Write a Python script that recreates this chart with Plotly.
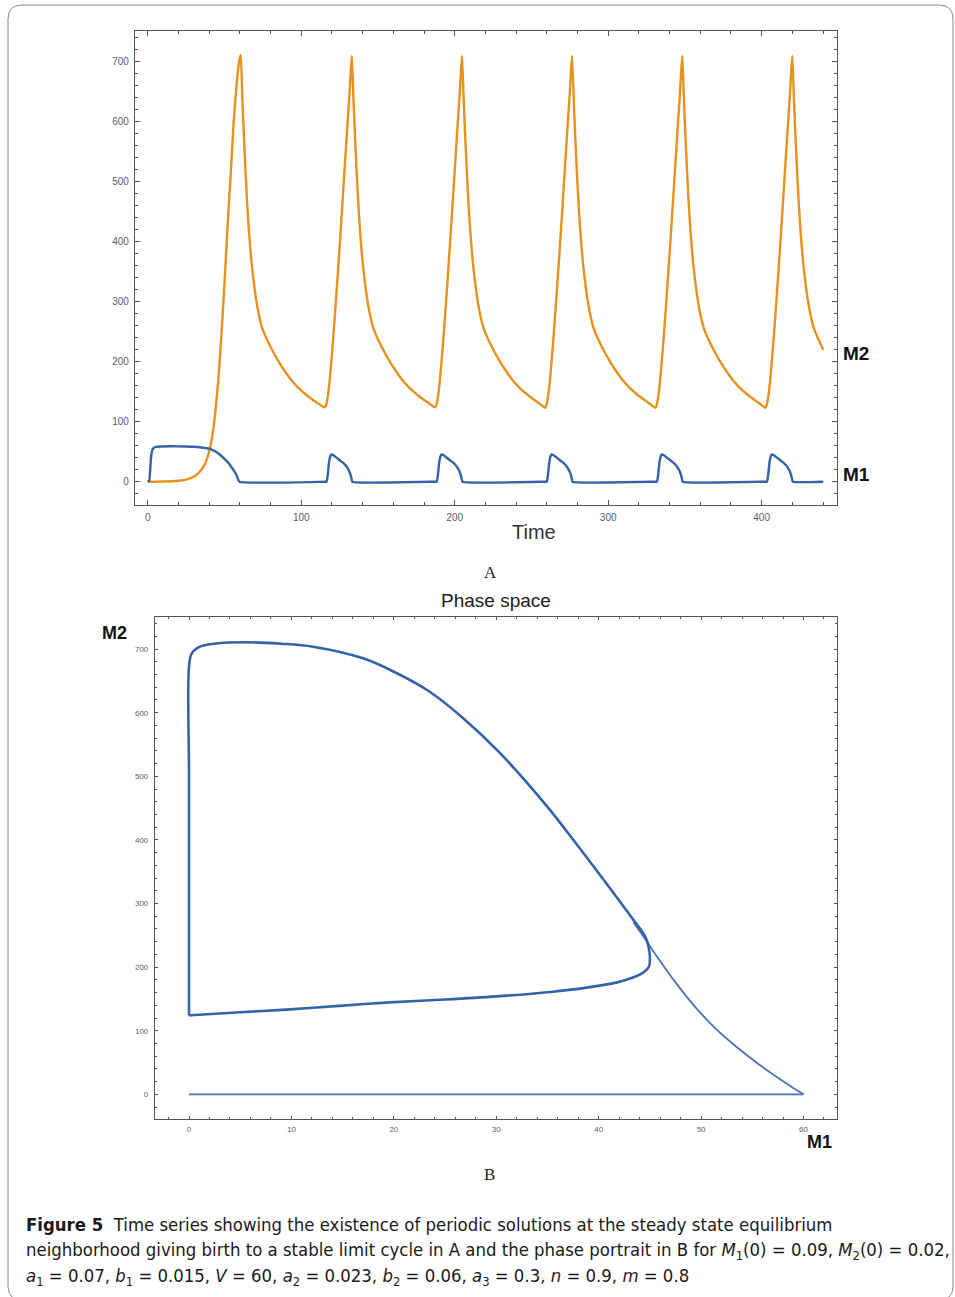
import plotly.graph_objects as go

W, H = 955, 1297

# ---------------- Panel A: time series ----------------
t_m2 = [0, 10, 20, 25, 28, 31, 34, 37, 40, 42, 44, 46, 48, 50, 52, 54, 56, 58, 59.5, 60.6,
        61.6, 62.6, 63.6, 64.6, 65.6, 66.6, 67.6, 68.6, 69.6, 70.6, 71.6, 72.6, 73.6, 74.6, 76.6, 78.6, 81.6, 85.1, 88.6, 93.6, 98.6, 104.6, 110.6, 115.5,
        116.5, 117.5, 118.5, 119.5, 120.5, 121.5, 123.5, 125.5, 127.5, 129.5, 130.5, 131.5, 132.3, 133.0,
        134, 135, 136, 137, 138, 139, 140, 141, 142, 143, 144, 145, 146, 147, 149, 151, 154, 157.5, 161, 166, 171, 177, 183, 187.3,
        188.3, 189.3, 190.3, 191.3, 192.3, 193.3, 195.3, 197.3, 199.3, 201.3, 202.3, 203.3, 204.1, 204.8,
        205.8, 206.8, 207.8, 208.8, 209.8, 210.8, 211.8, 212.8, 213.8, 214.8, 215.8, 216.8, 217.8, 218.8, 220.8, 222.8, 225.8, 229.3, 232.8, 237.8, 242.8, 248.8, 254.8, 259.0,
        260.0, 261.0, 262.0, 263.0, 264.0, 265.0, 267.0, 269.0, 271.0, 273.0, 274.0, 275.0, 275.8, 276.5,
        277.5, 278.5, 279.5, 280.5, 281.5, 282.5, 283.5, 284.5, 285.5, 286.5, 287.5, 288.5, 289.5, 290.5, 292.5, 294.5, 297.5, 301.0, 304.5, 309.5, 314.5, 320.5, 326.5, 330.8,
        331.8, 332.8, 333.8, 334.8, 335.8, 336.8, 338.8, 340.8, 342.8, 344.8, 345.8, 346.8, 347.6, 348.3,
        349.3, 350.3, 351.3, 352.3, 353.3, 354.3, 355.3, 356.3, 357.3, 358.3, 359.3, 360.3, 361.3, 362.3, 364.3, 366.3, 369.3, 372.8, 376.3, 381.3, 386.3, 392.3, 398.3, 402.5,
        403.5, 404.5, 405.5, 406.5, 407.5, 408.5, 410.5, 412.5, 414.5, 416.5, 417.5, 418.5, 419.3, 420.0,
        421, 422, 423, 424, 425, 426, 427, 428, 429, 430, 431, 432, 433, 434, 436, 438, 440.1]
m2 = [0, 0.3, 1.5, 3.5, 6, 10, 17, 28, 50, 75, 115, 170, 245, 330, 425, 510, 600, 665, 700, 711,
      640, 578, 522, 472, 430, 396, 366, 343, 322, 304, 289, 276, 265, 256, 243, 232, 217, 201, 187, 169, 155, 142, 131, 124,
      130, 145, 168, 197, 228, 262, 334, 410, 490, 570, 610, 648, 685, 710,
      640, 578, 522, 472, 430, 396, 366, 343, 322, 304, 289, 276, 265, 256, 243, 232, 217, 201, 187, 169, 155, 142, 131, 124,
      130, 145, 168, 197, 228, 262, 334, 410, 490, 570, 610, 648, 685, 710,
      640, 578, 522, 472, 430, 396, 366, 343, 322, 304, 289, 276, 265, 256, 243, 232, 217, 201, 187, 169, 155, 142, 131, 123,
      130, 145, 168, 197, 228, 262, 334, 410, 490, 570, 610, 648, 685, 710,
      640, 578, 522, 472, 430, 396, 366, 343, 322, 304, 289, 276, 265, 256, 243, 232, 217, 201, 187, 169, 155, 142, 131, 123,
      130, 145, 168, 197, 228, 262, 334, 410, 490, 570, 610, 648, 685, 710,
      640, 578, 522, 472, 430, 396, 366, 343, 322, 304, 289, 276, 265, 256, 243, 232, 217, 201, 187, 169, 155, 142, 131, 123,
      130, 145, 168, 197, 228, 262, 334, 410, 490, 570, 610, 648, 685, 710,
      640, 578, 522, 472, 430, 396, 366, 343, 322, 304, 289, 276, 265, 256, 243, 232, 220]

t_m1 = [0, 1.0, 1.6, 2.2, 3.0, 4.0, 5.5, 8, 15, 25, 30, 35, 40, 44, 47, 50, 53, 56, 58, 59.7,
        115.5, 116.5, 117.3, 118.1, 118.9, 119.7, 121.0, 123.5, 125.5, 127.5, 129.5, 131.0, 132.0, 132.7, 133.3,
        187.3, 188.3, 189.1, 189.9, 190.7, 191.5, 192.8, 195.3, 197.3, 199.3, 201.3, 202.8, 203.8, 204.5, 205.1,
        259.0, 260.0, 260.8, 261.6, 262.4, 263.2, 264.5, 267.0, 269.0, 271.0, 273.0, 274.5, 275.5, 276.2, 276.8,
        330.8, 331.8, 332.6, 333.4, 334.2, 335.0, 336.3, 338.8, 340.8, 342.8, 344.8, 346.3, 347.3, 348.0, 348.6,
        402.5, 403.5, 404.3, 405.1, 405.9, 406.7, 408.0, 410.5, 412.5, 414.5, 416.5, 418.0, 419.0, 419.7, 420.3,
        440.1]
m1 = [0, 2, 20, 42, 53, 56.5, 58, 58.8, 59, 58.8, 58.3, 57, 55, 50.5, 45, 38, 30, 19, 10, 0,
      0, 0, 12, 32, 42, 45.5, 44, 39, 35, 31, 25.5, 19, 12.5, 6, 0,
      0, 0, 12, 32, 42, 45.5, 44, 39, 35, 31, 25.5, 19, 12.5, 6, 0,
      0, 0, 12, 32, 42, 45.5, 44, 39, 35, 31, 25.5, 19, 12.5, 6, 0,
      0, 0, 12, 32, 42, 45.5, 44, 39, 35, 31, 25.5, 19, 12.5, 6, 0,
      0, 0, 12, 32, 42, 45.5, 44, 39, 35, 31, 25.5, 19, 12.5, 6, 0,
      0]

# ---------------- Panel B: phase space ----------------
bottom_m1 = [0, 30, 60]
bottom_m2 = [0, 0, 0]

transient_m1 = [60, 59, 57.5, 55.5, 53.5, 51.5, 49.5, 47.5, 45.5, 44.2, 43.4]
transient_m2 = [0, 10, 26, 49, 74, 102, 136, 176, 221, 252, 270]

cycle_low_m1 = [40.5, 43.4, 44.6, 45.0, 44.9, 44.3, 43.4, 41.8, 38.5, 35.3, 30, 25, 19.6, 15, 9.9, 5, 1, 0]
cycle_low_m2 = [337, 274, 246, 216, 200.6, 191, 184, 176, 167, 161, 154, 149, 144.5, 139.5, 133.6, 129, 125.2, 124]

cycle_up_m1 = [0, 0, 0, 0, 0.26, 1.07, 2.5, 5.6, 9.0, 12.1, 17.0, 20.3, 23.5, 26.8, 30.4, 35, 38, 40.5]
cycle_up_m2 = [124, 300, 500, 672, 693, 703.8, 708.5, 710.7, 708.5, 703.8, 685.5, 662, 633, 591, 536, 452, 390, 337]

x_ticks_a = [0, 100, 200, 300, 400]
y_ticks = [0, 100, 200, 300, 400, 500, 600, 700]
x_ticks_b = [0, 10, 20, 30, 40, 50, 60]

BLUE = "#3563a8"
BLUE_THIN = "#4a72b4"
ORANGE = "#e8911c"
FRAME = "#555555"
TICKFONT = "#5c5c68"

fig = go.Figure()
fig.add_trace(go.Scatter(x=t_m2, y=m2, mode="lines", line=dict(color=ORANGE, width=2.4, shape="spline", smoothing=0.5),
                         xaxis="x", yaxis="y", showlegend=False, hoverinfo="skip"))
fig.add_trace(go.Scatter(x=t_m1, y=m1, mode="lines", line=dict(color=BLUE, width=2.4, shape="spline", smoothing=0.4),
                         xaxis="x", yaxis="y", showlegend=False, hoverinfo="skip"))
fig.add_trace(go.Scatter(x=bottom_m1, y=bottom_m2, mode="lines", line=dict(color=BLUE_THIN, width=1.8),
                         xaxis="x2", yaxis="y2", showlegend=False, hoverinfo="skip"))
fig.add_trace(go.Scatter(x=transient_m1, y=transient_m2, mode="lines",
                         line=dict(color=BLUE_THIN, width=1.8, shape="spline", smoothing=1.0),
                         xaxis="x2", yaxis="y2", showlegend=False, hoverinfo="skip"))
fig.add_trace(go.Scatter(x=cycle_low_m1, y=cycle_low_m2, mode="lines",
                         line=dict(color=BLUE, width=2.6, shape="spline", smoothing=1.0),
                         xaxis="x2", yaxis="y2", showlegend=False, hoverinfo="skip"))
fig.add_trace(go.Scatter(x=cycle_up_m1, y=cycle_up_m2, mode="lines",
                         line=dict(color=BLUE, width=2.6, shape="spline", smoothing=1.0),
                         xaxis="x2", yaxis="y2", showlegend=False, hoverinfo="skip"))


def px(x):
    return x / W


def py(y):
    return 1 - y / H


def axis_common(major_len, minor_len, dtick_minor, size, standoff):
    return dict(
        showgrid=False, zeroline=False, showline=True, linecolor=FRAME, linewidth=1.2,
        mirror="allticks", ticks="inside", ticklen=major_len, tickwidth=1, tickcolor=FRAME,
        minor=dict(ticks="inside", ticklen=minor_len, tickwidth=1, tickcolor=FRAME, dtick=dtick_minor, showgrid=False),
        tickfont=dict(family="Liberation Sans, Arial, sans-serif", size=size, color=TICKFONT),
        ticklabelstandoff=standoff,
    )


fig.update_layout(
    width=W, height=H, margin=dict(l=0, r=0, t=0, b=0),
    paper_bgcolor="white", plot_bgcolor="white",
    xaxis=dict(domain=[px(135), px(836.7)], range=[-8.3, 448.9], tickmode="array", tickvals=x_ticks_a,
               anchor="y", **axis_common(5, 3, 20, 10, 3)),
    yaxis=dict(domain=[py(505), py(31)], range=[-38.8, 751], tickmode="array", tickvals=y_ticks,
               anchor="x", **axis_common(5, 3, 20, 10, 3)),
    xaxis2=dict(domain=[px(155), px(837.3)], range=[-3.32, 63.3], tickmode="array", tickvals=x_ticks_b,
                anchor="y2", **axis_common(3, 2, 2, 8, 2)),
    yaxis2=dict(domain=[py(1119), py(617.3)], range=[-38.8, 750], tickmode="array", tickvals=y_ticks,
                anchor="x2", **axis_common(3, 2, 20, 8, 4)),
)

ann = []


def add_text(x, y, text, size, family="Liberation Sans, Arial, sans-serif", color="#222222",
             xanchor="center", bold=False):
    ann.append(dict(x=px(x), y=py(y), xref="paper", yref="paper", text=("<b>%s</b>" % text) if bold else text,
                    showarrow=False, xanchor=xanchor, yanchor="middle",
                    font=dict(family=family, size=size, color=color)))


add_text(534, 532, "Time", 20, color="#333333")
add_text(841, 353, "M2", 19, xanchor="left", bold=True, color="#111111")
add_text(841, 475, "M1", 19, xanchor="left", bold=True, color="#111111")
add_text(491, 572, "A", 17, family="Liberation Serif, Times New Roman, serif", color="#222222")
add_text(496, 601, "Phase space", 19, color="#222222")
add_text(100, 633, "M2", 18, xanchor="left", bold=True, color="#111111")
add_text(805, 1142, "M1", 18, xanchor="left", bold=True, color="#111111")
add_text(489, 1174, "B", 17, family="Liberation Serif, Times New Roman, serif", color="#222222")

CAP_FONT = "Liberation Sans Narrow, DejaVu Sans Condensed, Noto Sans, sans-serif"
cap1 = "<b>Figure 5</b>  Time series showing the existence of periodic solutions at the steady state equilibrium"
cap2 = ("neighborhood giving birth to a stable limit cycle in A and the phase portrait in B for "
        "<i>M</i><sub>1</sub>(0) = 0.09, <i>M</i><sub>2</sub>(0) = 0.02,")
cap3 = ("<i>a</i><sub>1</sub> = 0.07, <i>b</i><sub>1</sub> = 0.015, <i>V</i> = 60, <i>a</i><sub>2</sub> = 0.023, "
        "<i>b</i><sub>2</sub> = 0.06, <i>a</i><sub>3</sub> = 0.3, <i>n</i> = 0.9, <i>m</i> = 0.8")
add_text(24, 1224, cap1, 18.4, family=CAP_FONT, xanchor="left", color="#1a1a1a")
add_text(24, 1251, cap2, 18.4, family=CAP_FONT, xanchor="left", color="#1a1a1a")
add_text(24, 1277, cap3, 18.4, family=CAP_FONT, xanchor="left", color="#1a1a1a")

fig.update_layout(annotations=ann)

# rounded border frame around the whole figure
r = 14
x0, y0, x1, y1 = 8, 5, 953, 1300
path = ("M {a},{b} L {c},{b} Q {x1},{b} {x1},{d} L {x1},{e} Q {x1},{f} {c},{f} "
        "L {a},{f} Q {x0},{f} {x0},{e} L {x0},{d} Q {x0},{b} {a},{b} Z").format(
    a=px(x0 + r), b=py(y0), c=px(x1 - r), d=py(y0 + r), e=py(y1 - r), f=py(y1), x0=px(x0), x1=px(x1))
fig.update_layout(shapes=[dict(type="path", path=path, xref="paper", yref="paper",
                               line=dict(color="#8a8a8a", width=1), fillcolor="rgba(0,0,0,0)", layer="below")])

fig.write_html("out.html")
